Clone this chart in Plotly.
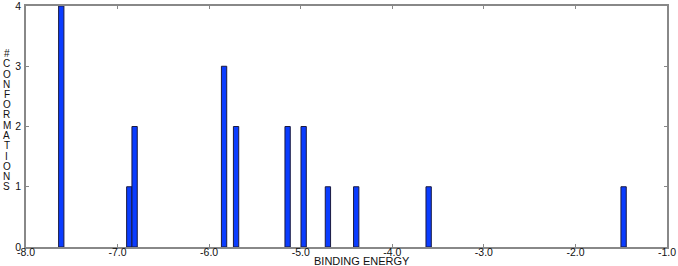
import plotly.graph_objects as go

binding_energy = [-7.615, -6.872, -6.814, -5.837, -5.706, -5.143, -4.968, -4.703, -4.394, -3.603, -1.474]
conformations = [4, 1, 2, 3, 2, 2, 2, 1, 1, 1, 1]
x_ticks = [-8.0, -7.0, -6.0, -5.0, -4.0, -3.0, -2.0, -1.0]
x_tick_labels = ["-8.0", "-7.0", "-6.0", "-5.0", "-4.0", "-3.0", "-2.0", "-1.0"]
y_ticks = [0, 1, 2, 3, 4]
y_title = "#CONFORMATIONS"
x_title = "BINDING ENERGY"

fig = go.Figure()
fig.add_trace(go.Bar(
    x=binding_energy, y=conformations, width=0.058,
    marker=dict(color="#0a3cff", line=dict(color="#1a1a40", width=1)),
))

FAM = "Liberation Sans, Arial, sans-serif"
font = dict(family=FAM, size=10.5, color="#111")
axis_common = dict(showgrid=False, zeroline=False, showline=True, linecolor="#888",
                   linewidth=1.5, mirror="ticks", ticks="inside", ticklen=3,
                   tickcolor="#888", tickfont=font, automargin=False,
                   ticklabeloverflow="allow")
fig.update_layout(
    width=678, height=266,
    margin=dict(l=26, r=11, t=6, b=19, autoexpand=False),
    plot_bgcolor="white", paper_bgcolor="white",
    showlegend=False,
    xaxis=dict(range=[-8, -1], tickvals=x_ticks, ticktext=x_tick_labels, ticklabelstandoff=-5, **axis_common),
    yaxis=dict(range=[0, 4], tickvals=y_ticks, ticklabelstandoff=1, **axis_common),
)

# stacked vertical y-axis title, one letter per line
plot_h = 266 - 6 - 19
first_px, step_px = 53.5, 10.25
for i, ch in enumerate(y_title):
    ypx = first_px + i * step_px
    fig.add_annotation(text=ch, xref="paper", yref="paper",
                       x=-19.5 / 641, y=(247 - ypx) / plot_h,
                       xanchor="center", yanchor="middle", showarrow=False,
                       font=dict(family=FAM, size=10, color="#111"))

fig.add_annotation(text=x_title, xref="x", yref="paper", x=-4.33, y=(247 - 260.5) / plot_h,
                   xanchor="center", yanchor="middle", showarrow=False,
                   font=dict(family=FAM, size=11, color="#111"))
fig.write_html("out.html", config={"displayModeBar": False},
               post_script="document.body.style.margin='0';document.body.style.overflow='hidden';")
